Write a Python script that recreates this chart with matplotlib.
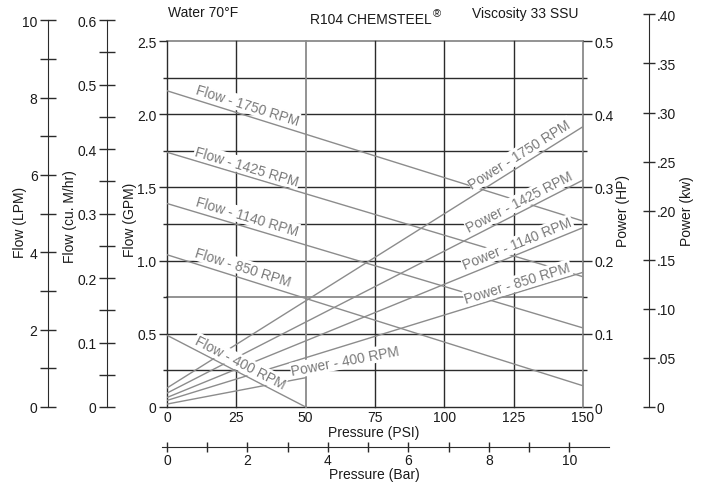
import numpy as np
import matplotlib
matplotlib.use('Agg')
import matplotlib.pyplot as plt
from matplotlib.ticker import FixedLocator, FuncFormatter

plt.rcParams['font.family'] = ['Liberation Sans', 'DejaVu Sans']
plt.rcParams['font.size'] = 10

# Pump curves: start (0 PSI) and end of each straight line
rpm = ['1750', '1425', '1140', '850', '400']
psi_end = [150, 150, 150, 150, 50]
flow_gpm_start = [2.16, 1.74, 1.39, 1.04, 0.49]
flow_gpm_end = [1.27, 0.89, 0.54, 0.145, 0.0]
power_hp_start = [0.026, 0.019, 0.013, 0.009, 0.004]
power_hp_end = [0.383, 0.310, 0.245, 0.184, 0.040]

# Axis ticks
psi_ticks = [0, 25, 50, 75, 100, 125, 150]
gpm_ticks = [0, 0.5, 1.0, 1.5, 2.0, 2.5]
gpm_minor = [0.25, 0.75, 1.25, 1.75, 2.25]
hp_ticks = [0, 0.1, 0.2, 0.3, 0.4, 0.5]
hp_minor = [0.05, 0.15, 0.25, 0.35, 0.45]
lpm_ticks = [0, 2, 4, 6, 8, 10]
lpm_minor = [1, 3, 5, 7, 9]
m3h_ticks = [0, 0.1, 0.2, 0.3, 0.4, 0.5, 0.6]
m3h_minor = [0.05, 0.15, 0.25, 0.35, 0.45, 0.55]
kw_ticks = [0, 0.05, 0.10, 0.15, 0.20, 0.25, 0.30, 0.35, 0.40]
bar_ticks = [0, 2, 4, 6, 8, 10]
bar_minor = [1, 3, 5, 7, 9]

# unit conversions
LPM_PER_GPM = 3.78541
GPM_PER_M3H = 4.40287
KW_PER_HP = 0.7457
PSI_PER_BAR = 14.5038

# where the curve labels sit (psi, value)
flow_label_pos = [(28.8, 2.063), (28.8, 1.643), (28.8, 1.301), (27.4, 0.956), (26.3, 0.304)]
power_label_pos = [(127.3, 0.3456), (127.1, 0.2807), (126.4, 0.2234), (126.4, 0.1694), (64.4, 0.0635)]

DARK = '#2b2b2b'
GREY = '#8a8a8a'
CURVE = '#8c8c8c'
LABEL = '#7a7a7a'
TXT = '#1a1a1a'

W, H = 704, 485
fig = plt.figure(figsize=(W / 100, H / 100), dpi=100)


def fx(px):
    return px / W


def fy(py):
    return 1 - py / H


# main plot area (PSI vs GPM)
main_h = (408 - 42) / H
ax = fig.add_axes([fx(167), fy(408), (583 - 167) / W, main_h])
ax.set_xlim(0, 150)
ax.set_ylim(0, 2.5)
for s in ax.spines.values():
    s.set_visible(False)

for g in np.arange(0, 2.51, 0.25):
    grey = np.isclose(g, 0.75) or np.isclose(g, 2.5)
    ax.axhline(g, color=GREY if grey else DARK, lw=1.3 if grey else 1.0, zorder=1, clip_on=False)
for p in psi_ticks:
    grey = p in (50, 150)
    ax.axvline(p, color=GREY if grey else DARK, lw=1.3 if grey else 1.0, zorder=1, clip_on=False)

ax.set_xticks(psi_ticks)
ax.set_xticklabels([str(p) for p in psi_ticks])
ax.tick_params(axis='x', length=0, pad=2.5, labelcolor=TXT, labelsize=10)
ax.yaxis.set_major_locator(FixedLocator(gpm_ticks))
ax.yaxis.set_minor_locator(FixedLocator(gpm_minor))
ax.yaxis.set_major_formatter(FuncFormatter(lambda v, _: '0' if v == 0 else f'{v:.1f}'))
ax.tick_params(axis='y', which='major', length=5.5, width=1, color=DARK, pad=2, labelcolor=TXT)
ax.tick_params(axis='y', which='minor', length=3, width=1, color=DARK)
ax.set_xlabel('Pressure (PSI)', va='center', color=TXT)
ax.xaxis.set_label_coords(fx(374), fy(432.5), transform=fig.transFigure)

# power axis on the right (HP)
axr = ax.twinx()
axr.set_ylim(0, 0.5)
for s in axr.spines.values():
    s.set_visible(False)
axr.yaxis.set_major_locator(FixedLocator(hp_ticks))
axr.yaxis.set_minor_locator(FixedLocator(hp_minor))
axr.yaxis.set_major_formatter(FuncFormatter(lambda v, _: '0' if v == 0 else f'{v:.1f}'))
axr.tick_params(axis='y', which='major', length=6.5, width=1, color=DARK, pad=1.5, labelcolor=TXT)
axr.tick_params(axis='y', which='minor', length=3, width=1, color=DARK)


def screen_angle(trans, x0, y0, x1, y1):
    a = trans.transform((x0, y0))
    b = trans.transform((x1, y1))
    return np.degrees(np.arctan2(b[1] - a[1], b[0] - a[0]))


box = dict(facecolor='white', edgecolor='none', pad=0.8)
for i, r in enumerate(rpm):
    ax.plot([0, psi_end[i]], [flow_gpm_start[i], flow_gpm_end[i]], color=CURVE, lw=1, zorder=2)
    ax.plot([0, psi_end[i]], [power_hp_start[i], power_hp_end[i]], color=CURVE, lw=1, zorder=2,
            transform=axr.transData)

for i, r in enumerate(rpm):
    ang = screen_angle(ax.transData, 0, flow_gpm_start[i], psi_end[i], flow_gpm_end[i])
    x, y = flow_label_pos[i]
    ax.text(x, y, f'Flow - {r} RPM', rotation=ang, rotation_mode='anchor', ha='center', va='center',
            color=LABEL, fontsize=10, bbox=box, zorder=3)
    ang = screen_angle(axr.transData, 0, power_hp_start[i], psi_end[i], power_hp_end[i])
    x, y = power_label_pos[i]
    ax.text(x, y, f'Power - {r} RPM', rotation=ang, rotation_mode='anchor', ha='center', va='center',
            color=LABEL, fontsize=10, bbox=box, zorder=3, transform=axr.transData)


def side_axis(x_px, top_value, height, ticks, minor, fmt, side, ticklen, pad):
    a = fig.add_axes([fx(x_px), fy(408), 0.0001, height])
    a.patch.set_visible(False)
    a.set_ylim(0, top_value)
    a.set_xticks([])
    for k, s in a.spines.items():
        s.set_visible(k == side)
        s.set_color(DARK)
    if side == 'right':
        a.yaxis.tick_right()
    a.yaxis.set_major_locator(FixedLocator(ticks))
    a.yaxis.set_minor_locator(FixedLocator(minor))
    a.yaxis.set_major_formatter(FuncFormatter(fmt))
    a.tick_params(axis='y', which='both', direction='inout', length=ticklen, width=1, color=DARK)
    a.tick_params(axis='y', which='major', pad=pad, labelcolor=TXT, labelsize=10)
    return a


side_axis(48, 10, main_h * (10 / LPM_PER_GPM) / 2.5, lpm_ticks, lpm_minor,
          lambda v, _: f'{v:g}', 'left', 11, 2)
side_axis(107, 0.6, main_h * (0.6 * GPM_PER_M3H) / 2.5, m3h_ticks, m3h_minor,
          lambda v, _: '0' if v == 0 else f'{v:.1f}', 'left', 11, 2)
side_axis(649, 0.4, main_h * (0.4 / KW_PER_HP) / 0.5, kw_ticks, [],
          lambda v, _: '0' if v == 0 else f'{v:.2f}'.lstrip('0'), 'right', 8, 1.5)

# pressure in bar underneath
bar_lo = (162 - 167) / 416 * 150 / PSI_PER_BAR
bar_hi = (609 - 167) / 416 * 150 / PSI_PER_BAR
axb = fig.add_axes([fx(162), fy(448), (609 - 162) / W, 0.0001])
axb.patch.set_visible(False)
axb.set_xlim(bar_lo, bar_hi)
axb.set_yticks([])
for k, s in axb.spines.items():
    s.set_visible(k == 'bottom')
    s.set_color(DARK)
axb.xaxis.set_major_locator(FixedLocator(bar_ticks))
axb.xaxis.set_minor_locator(FixedLocator(bar_minor))
axb.tick_params(axis='x', which='both', direction='inout', length=7, width=1, color=DARK)
axb.tick_params(axis='x', which='major', pad=0.5, labelcolor=TXT)
axb.set_xlabel('Pressure (Bar)', va='center', color=TXT)
axb.xaxis.set_label_coords(fx(374), fy(475), transform=fig.transFigure)

# axis titles
fig.text(fx(20), fy(222), 'Flow (LPM)', rotation=90, ha='center', va='center', color=TXT)
fig.text(fx(70), fy(217), 'Flow (cu. M/hr)', rotation=90, ha='center', va='center', color=TXT)
fig.text(fx(130), fy(220), 'Flow (GPM)', rotation=90, ha='center', va='center', color=TXT)
fig.text(fx(623), fy(211), 'Power (HP)', rotation=90, ha='center', va='center', color=TXT)
fig.text(fx(687), fy(211), 'Power (kw)', rotation=90, ha='center', va='center', color=TXT)

# header
fig.text(fx(168), fy(13), 'Water 70°F', ha='left', va='center', color=TXT)
t = fig.text(fx(310), fy(20), 'R104 CHEMSTEEL', ha='left', va='center', color=TXT)
ax.annotate('®', xy=(1, 1), xycoords=t, xytext=(0.5, -1), textcoords='offset points',
            ha='left', va='center', fontsize=8, color=TXT)
fig.text(fx(472), fy(14), 'Viscosity 33 SSU', ha='left', va='center', color=TXT)

fig.savefig('out.png', dpi=100)
